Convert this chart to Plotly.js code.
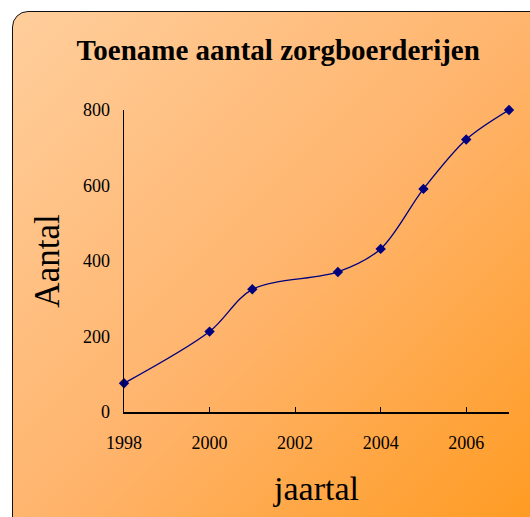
<!DOCTYPE html>
<html>
<head>
<meta charset="utf-8">
<script src="https://cdn.plot.ly/plotly-3.0.1.min.js"></script>
<style>
  html, body { margin: 0; padding: 0; background: #ffffff; width: 530px; height: 517px; overflow: hidden; }
  #bg {
    position: absolute; left: 12px; top: 11px; width: 540px; height: 530px;
    border: 1.5px solid #111; border-radius: 16px;
    background: linear-gradient(135deg, #FFCE9C 0%, #FFB46C 50%, #FF991C 100%);
  }
  #chart { position: absolute; left: 0; top: 0; width: 530px; height: 517px; }
</style>
</head>
<body>
<div id="bg"></div>
<div id="chart"></div>
<script>
const years = [1998, 2000, 2001, 2003, 2004, 2005, 2006, 2007];
const counts = [76, 213, 325, 371, 432, 591, 722, 800];
const xTicks = [1998, 2000, 2002, 2004, 2006];
const yTicks = [0, 200, 400, 600, 800];
const chartTitle = "Toename aantal zorgboerderijen";
const xTitle = "jaartal";
const yTitle = "Aantal";

const serif = "Liberation Serif, Times New Roman, serif";

const trace = {
  x: years, y: counts, type: "scatter", mode: "lines+markers",
  line: { color: "#00007F", width: 1.3, shape: "spline", smoothing: 0.9 },
  marker: { symbol: "diamond", size: 8, color: "#00007F" },
  hoverinfo: "skip", cliponaxis: false
};

const layout = {
  width: 530, height: 517,
  paper_bgcolor: "rgba(0,0,0,0)", plot_bgcolor: "rgba(0,0,0,0)",
  margin: { l: 124, r: 21, t: 110, b: 105 },
  showlegend: false,
  title: {
    text: "<b>" + chartTitle + "</b>",
    font: { family: serif, size: 29, color: "#000" },
    x: 0.525, xref: "container", xanchor: "center",
    y: 1 - 50/517, yref: "container", yanchor: "middle"
  },
  xaxis: {
    range: [1998, 2007], tickvals: xTicks, ticktext: xTicks.map(String),
    showgrid: false, zeroline: false, showline: true, linecolor: "#000", linewidth: 1.5,
    ticks: "inside", ticklen: 5, tickcolor: "#000", tickwidth: 1,
    tickfont: { family: serif, size: 18, color: "#000" },
    ticklabelstandoff: 14,
    title: { text: xTitle, font: { family: serif, size: 34, color: "#000" }, standoff: 24 },
    fixedrange: true
  },
  yaxis: {
    range: [0, 800], tickvals: yTicks, ticktext: yTicks.map(String),
    showgrid: false, zeroline: false, showline: true, linecolor: "#000", linewidth: 1.5,
    ticks: "",
    tickfont: { family: serif, size: 18, color: "#000" },
    ticklabelstandoff: 9,
    title: { text: yTitle, font: { family: serif, size: 35, color: "#000" }, standoff: 12 },
    fixedrange: true
  }
};

Plotly.newPlot("chart", [trace], layout, { displayModeBar: false, staticPlot: true });
</script>
</body>
</html>
